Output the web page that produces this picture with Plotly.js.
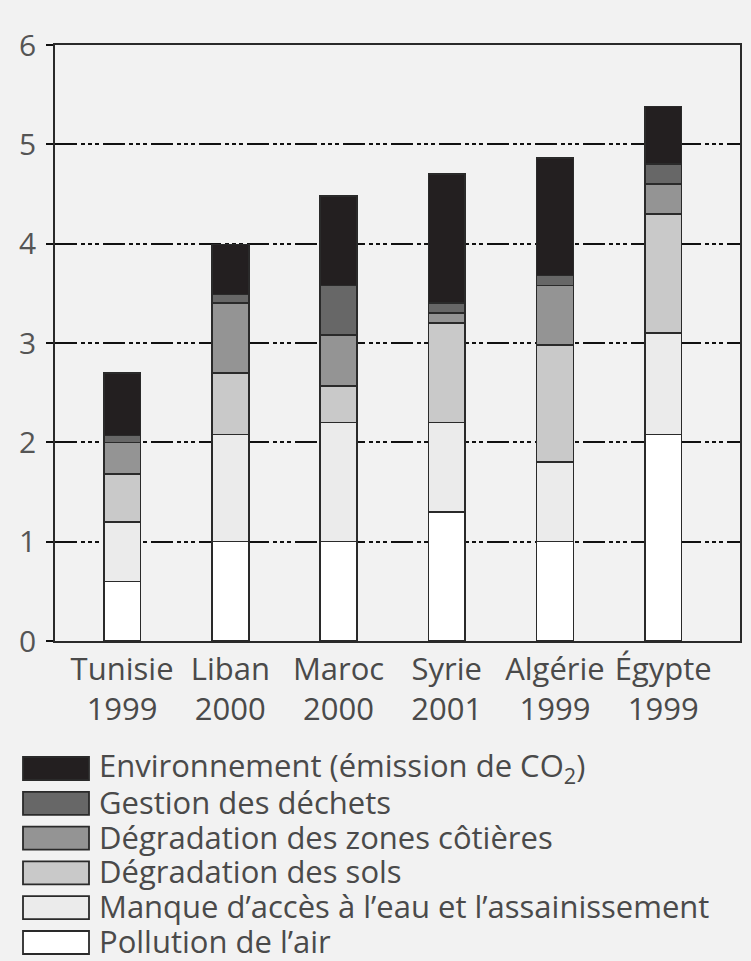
<!DOCTYPE html>
<html>
<head>
<meta charset="utf-8">
<script src="https://cdn.plot.ly/plotly-3.0.1.min.js"></script>
<style>html,body{margin:0;padding:0;background:#f2f2f2;}#chart{width:751px;height:961px;}</style>
</head>
<body>
<div id="chart"></div>
<script>
// ---- data ----
var categories = ["Tunisie<br>1999", "Liban<br>2000", "Maroc<br>2000", "Syrie<br>2001", "Algérie<br>1999", "Égypte<br>1999"];
var pollutionAir = [0.6, 1.0, 1.0, 1.3, 1.0, 2.08];
var manqueEau    = [0.6, 1.08, 1.2, 0.9, 0.8, 1.02];
var degradSols   = [0.48, 0.62, 0.37, 1.0, 1.18, 1.2];
var zonesCotieres= [0.32, 0.7, 0.51, 0.1, 0.6, 0.3];
var gestionDechets=[0.07, 0.09, 0.5, 0.1, 0.1, 0.2];
var emissionCO2  = [0.63, 0.5, 0.9, 1.3, 1.18, 0.58];
var seriesNames = ["Pollution de l’air", "Manque d’accès à l’eau et l’assainissement", "Dégradation des sols", "Dégradation des zones côtières", "Gestion des déchets", "Environnement (émission de CO<sub>2</sub>)"];
var seriesValues = [pollutionAir, manqueEau, degradSols, zonesCotieres, gestionDechets, emissionCO2];
var seriesColors = ["#ffffff", "#ebebeb", "#c9c9c9", "#949494", "#676767", "#231f20"];
var yTicks = [0, 1, 2, 3, 4, 5, 6];

var idx = categories.map(function(_, i){ return i; });
var traces = seriesValues.map(function(vals, k){
  return {
    type: 'bar', x: idx, y: vals, name: seriesNames[k],
    width: 0.34,
    marker: {color: seriesColors[k], line: {color: '#2a2a2a', width: 1.6}},
    showlegend: false, hoverinfo: 'skip'
  };
});

var FONT = "Open Sans, sans-serif";
var shapes = [];
var annotations = [];
// legend (top-down order: CO2 first)
var plotH = 961 - 45 - 320;
function py(p){ return (641 - p) / plotH; }
var plotW = 751 - 55 - 11;
function px(p){ return (p - 55) / plotW; }
for (var j = 0; j < 6; j++) {
  var k = 5 - j;
  var rowTop = 757 + j * 34.8;
  shapes.push({type: 'rect', xref: 'paper', yref: 'paper',
    x0: px(23), x1: px(89), y0: py(rowTop), y1: py(rowTop + 23),
    fillcolor: seriesColors[k], line: {color: '#2a2a2a', width: 1.8}});
  annotations.push({xref: 'paper', yref: 'paper', x: px(97), y: py(rowTop + 10),
    xanchor: 'left', yanchor: 'middle', showarrow: false, text: seriesNames[k],
    font: {family: FONT, size: 31, color: '#4a4a4a'}});
}

var layout = {
  width: 751, height: 961,
  margin: {l: 55, r: 11, t: 45, b: 320},
  paper_bgcolor: '#f2f2f2', plot_bgcolor: '#f2f2f2',
  barmode: 'stack',
  xaxis: {
    range: [-0.62, 5.71], tickmode: 'array', tickvals: idx, ticktext: categories,
    showgrid: false, zeroline: false, showline: true, mirror: true,
    linecolor: '#2a2a2a', linewidth: 1.8, ticks: '',
    tickfont: {family: FONT, size: 31, color: '#4a4a4a'}
  },
  yaxis: {
    range: [0, 6], tickmode: 'array', tickvals: yTicks, ticktext: yTicks.map(String),
    showgrid: true, gridcolor: '#111111', gridwidth: 2,
    griddash: '22px,4px,4px,3px,4px,3px,4px,4px',
    zeroline: false, showline: true, mirror: true,
    linecolor: '#2a2a2a', linewidth: 1.8,
    ticks: 'outside', ticklen: 7, tickcolor: '#111111', tickwidth: 2,
    ticklabelstandoff: 4,
    tickfont: {family: FONT, size: 30, color: '#555555'}
  },
  shapes: shapes,
  annotations: annotations
};

Plotly.newPlot('chart', traces, layout, {displayModeBar: false, staticPlot: true});
</script>
</body>
</html>
